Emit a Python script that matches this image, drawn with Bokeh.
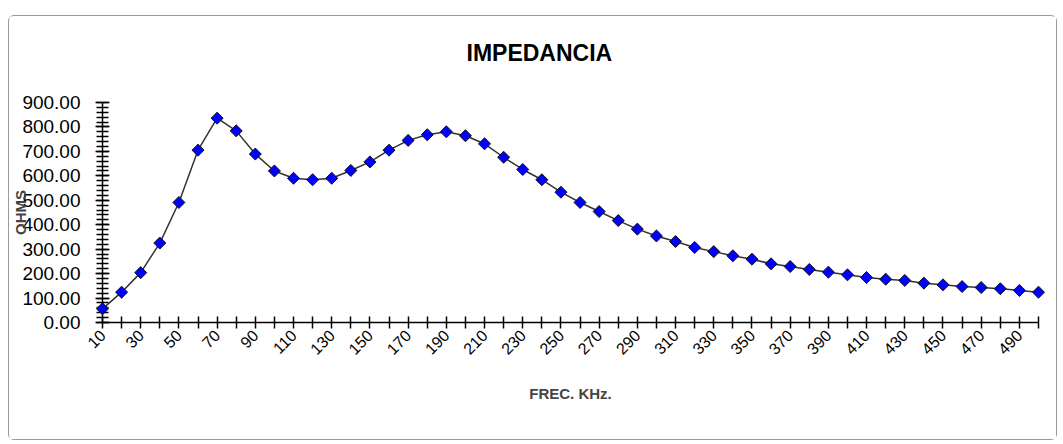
import math
from bokeh.plotting import figure
from bokeh.models import Range1d, FixedTicker, SingleIntervalTicker, NumeralTickFormatter, Title
from bokeh.embed import file_html
from bokeh.resources import INLINE

# --- data ---
freq_khz = [10, 20, 30, 40, 50, 60, 70, 80, 90, 100,
            110, 120, 130, 140, 150, 160, 170, 180, 190, 200,
            210, 220, 230, 240, 250, 260, 270, 280, 290, 300,
            310, 320, 330, 340, 350, 360, 370, 380, 390, 400,
            410, 420, 430, 440, 450, 460, 470, 480, 490, 500]
ohms = [56, 124, 204, 325, 491, 705, 836, 784, 689, 620,
        590, 584, 590, 622, 657, 705, 745, 768, 780, 764,
        731, 676, 626, 584, 533, 491, 454, 417, 382, 354,
        331, 307, 290, 273, 259, 240, 229, 217, 206, 195,
        184, 177, 172, 161, 154, 147, 143, 138, 131, 124]
labeled_ticks = freq_khz[0::2]     # 10, 30, ..., 490
unlabeled_ticks = freq_khz[1::2]   # 20, 40, ..., 500
title_text = "IMPEDANCIA"

FONT = "Liberation Sans"

p = figure(width=1049, height=425, output_backend="svg", toolbar_location=None,
           x_range=Range1d(freq_khz[0], freq_khz[-1]), y_range=Range1d(0, 900),
           min_border_left=93, min_border_right=20, min_border_top=86, min_border_bottom=119)
p.margin = (15, 0, 0, 8)
p.styles = {"border": "1px solid #9a9a9a", "border-radius": "6px"}

# spacer panel between frame and title (pushes the title up)
p.add_layout(Title(text=" ", text_font_size="1px", standoff=34), "above")
p.add_layout(Title(text=title_text, align="left", offset=364, text_font=FONT,
                   text_font_size="23px", text_font_style="bold", text_color="black",
                   standoff=0), "above")

p.outline_line_color = None
p.xgrid.visible = False
p.ygrid.visible = False
p.background_fill_color = "white"
p.border_fill_color = "white"

# y axis
ya = p.yaxis[0]
ya.ticker = SingleIntervalTicker(interval=100, num_minor_ticks=5)
ya.formatter = NumeralTickFormatter(format="0.00")
ya.axis_line_color = "black"
ya.axis_line_width = 1.5
ya.major_tick_in = 7
ya.major_tick_out = 7
ya.minor_tick_in = 6
ya.minor_tick_out = 6
ya.major_tick_line_color = "black"
ya.minor_tick_line_color = "black"
ya.major_tick_line_width = 1.5
ya.minor_tick_line_width = 1.5
ya.major_label_text_font = FONT
ya.major_label_text_font_size = "19px"
ya.major_label_text_color = "black"
ya.major_label_standoff = 15
ya.axis_label = "OHMS"
ya.axis_label_text_font = FONT
ya.axis_label_text_font_size = "15px"
ya.axis_label_text_font_style = "bold"
ya.axis_label_standoff = -10

# x axis
xa = p.xaxis[0]
xa.ticker = FixedTicker(ticks=labeled_ticks, minor_ticks=unlabeled_ticks)
xa.axis_line_color = "black"
xa.axis_line_width = 1.5
xa.major_tick_in = 6
xa.major_tick_out = 6
xa.minor_tick_in = 6
xa.minor_tick_out = 6
xa.major_tick_line_color = "black"
xa.minor_tick_line_color = "black"
xa.major_tick_line_width = 1.5
xa.minor_tick_line_width = 1.5
xa.major_label_orientation = math.pi / 4
xa.major_label_text_font = FONT
xa.major_label_text_font_size = "16px"
xa.major_label_text_color = "black"
xa.major_label_standoff = 4
xa.axis_label = "FREC. KHz."
xa.axis_label_text_font = FONT
xa.axis_label_text_font_size = "15px"
xa.axis_label_text_font_style = "bold"
xa.axis_label_standoff = 22

p.line(freq_khz, ohms, line_color="#333333", line_width=1.5, level="overlay")
p.scatter(freq_khz, ohms, marker="square", size=8.5, angle=math.pi / 4,
          fill_color="#0000ff", line_color="#111111", line_width=1, level="overlay")

open("out.html", "w").write(file_html(p, INLINE))
